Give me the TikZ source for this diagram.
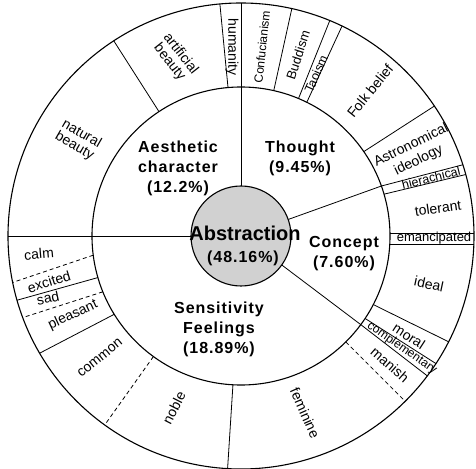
\documentclass[tikz,border=0pt]{standalone}
\usepackage{fontspec}
\setmainfont{Liberation Sans}
\newfontfamily\lblfont[LetterSpace=6]{Liberation Sans}
\newfontfamily\absfont{Liberation Sans}
\begin{document}
\begin{tikzpicture}[x=1pt,y=1pt,
  ring/.style={line width=1.1pt},
  sep/.style={line width=0.8pt},
  dsep/.style={line width=0.8pt, dash pattern=on 4pt off 3pt},
  mainlbl/.style={font=\lblfont\bfseries\fontsize{16}{20}\selectfont, align=center, inner sep=0pt},
  sublbl/.style={font=\fontsize{14}{14}\selectfont, align=center, inner sep=0pt},
]
\useasboundingbox (-241,-232) rectangle (235,236);
\def\ra{50}\def\rb{149}\def\rc{233}
% rings
\draw[ring] (0,0) circle (\rc);
\draw[ring] (0,0) circle (\rb);
% main dividers
\draw[sep] (90:\ra) -- (90:\rc);
\draw[sep] (180:\ra) -- (180:\rc);
\draw[sep] (19.3:\ra) -- (19.6:\rb) -- (17.8:\rc);
\draw[sep] (-35.4:\ra) -- (-36.5:\rb) -- (-36.9:\rc);
% Thought subdivisions
\draw[sep] (77.3:\rb) -- (77.4:\rc);
\draw[sep] (67.3:\rb) -- (67.6:\rc);
\draw[sep] (63.8:\rb) -- (64.3:\rc);
\draw[sep] (34.5:\rb) -- (33.9:\rc);
% Concept subdivisions
\draw[sep] (16.3:\rb) -- (15.3:\rc);
\draw[sep] (148.97,3) -- (232.98,3);
\draw[sep] (148.78,-8) -- (232.86,-8);
\draw[sep] (-27.4:\rb) -- (-27:\rc);
\draw[sep] (-33.6:\rb) -- (-33.2:\rc);
% Sensitivity subdivisions
\draw[dsep] (-45.3:\rb) -- (-45.2:\rc);
\draw[sep] (266.9:\rb) -- (266.7:\rc);
\draw[dsep] (234:\rb) -- (234.2:\rc);
\draw[sep] (211.7:\rb) -- (210.2:\rc);
\draw[dsep] (202:\rb) -- (200.5:\rc);
\draw[sep] (196.2:\rb) -- (196:\rc);
\draw[dsep] (187.4:\rb) -- (191.5:\rc);
% Aesthetic subdivisions
\draw[sep] (123.4:\rb) -- (123.1:\rc);
\draw[sep] (95:\rb) -- (95.2:\rc);
% centre
\draw[ring, fill=black!18] (0,0) circle (\ra);
\node[font=\absfont\bfseries\fontsize{20}{22}\selectfont, inner sep=0pt] (abs) at (4,3) {Abstraction};
\node[mainlbl] (absp) at (2,-22) {(48.16\%)};
% main labels
\node[mainlbl] (aes) at (-63,68) {Aesthetic\\character\\(12.2\%)};
\node[mainlbl] (tho) at (59,78) {Thought\\(9.45\%)};
\node[mainlbl] (con) at (103,-18) {Concept\\(7.60\%)};
\node[mainlbl] (sen) at (-22,-93) {Sensitivity\\Feelings\\(18.89\%)};
% outer labels
\node[sublbl, rotate=-90] (hum) at (-9,189) {humanity};
\node[sublbl, rotate=84, font=\fontsize{12}{12}\selectfont] (cfu) at (21,189) {Confucianism};
\node[sublbl, rotate=72, font=\fontsize{13}{13}\selectfont] (bud) at (57,181) {Buddism};
\node[sublbl, rotate=66, font=\fontsize{12.5}{12}\selectfont] (tao) at (75,162) {Taoism};
\node[sublbl, rotate=51] (folk) at (129,145) {Folk belief};
\node[sublbl, rotate=26, font=\fontsize{14}{17}\selectfont] (ast) at (174,83) {Astronomical\\ideology};
\node[sublbl, rotate=14, font=\fontsize{12.5}{12}\selectfont] (hie) at (190,58) {hierachical};
\node[sublbl, rotate=8] (tol) at (197,28) {tolerant};
\node[sublbl, font=\fontsize{13}{12}\selectfont] (ema) at (193,-2.5) {emancipated};
\node[sublbl, rotate=-12] (ide) at (188,-48) {ideal};
\node[sublbl, rotate=-33] (mor) at (168,-100) {moral};
\node[sublbl, rotate=-35, font=\fontsize{12}{12}\selectfont] (comp) at (161,-112) {complementary};
\node[sublbl, rotate=-41] (man) at (149,-129) {manish};
\node[sublbl, rotate=-66] (fem) at (64,-177) {feminine};
\node[sublbl, rotate=63] (nob) at (-67,-172) {noble};
\node[sublbl, rotate=39] (com) at (-141,-122) {common};
\node[sublbl, rotate=25] (ple) at (-168,-79) {pleasant};
\node[sublbl, rotate=12] (sad) at (-193,-62) {sad};
\node[sublbl, rotate=17] (exc) at (-192,-46) {excited};
\node[sublbl, rotate=5] (calm) at (-202,-18) {calm};
\node[sublbl, rotate=-30, font=\fontsize{14}{14}\selectfont] (nat) at (-163,96) {natural\\beauty};
\node[sublbl, rotate=-52, font=\fontsize{14}{14}\selectfont] (art) at (-66,178) {artificial\\beauty};
\end{tikzpicture}
\end{document}
